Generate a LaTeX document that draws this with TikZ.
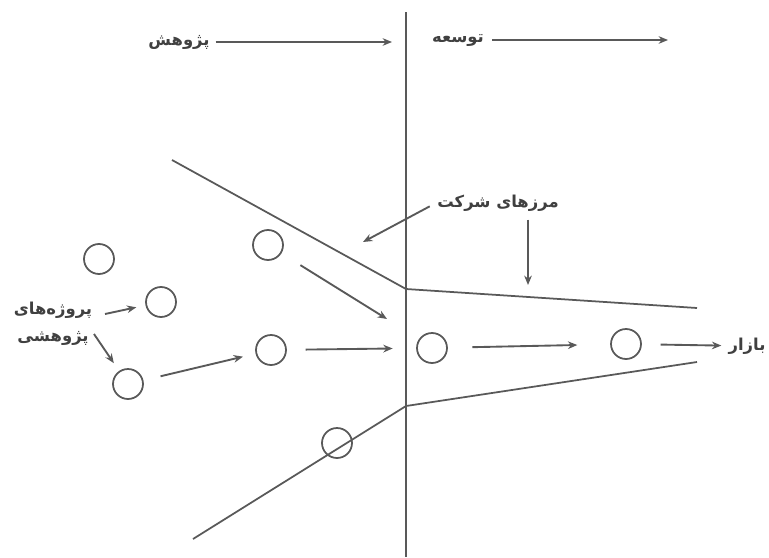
\documentclass[tikz,border=0pt]{standalone}
\usepackage{fontspec}
\newfontfamily\farsi[Script=Arabic]{DejaVu Sans}
\TeXXeTstate=1
\usetikzlibrary{arrows.meta}
\usetikzlibrary{positioning}

\begin{document}
\begin{tikzpicture}[x=0.03cm, y=-0.03cm,
      proj/.style ={circle, draw=black!65, line width=1.5pt, minimum size=0.9cm, inner sep=0pt},
      lbl/.style ={font=\farsi\bfseries\fontsize{14}{23}\selectfont, text=black!75, inner sep=1pt, align=center},
      edge/.style ={draw=black!65, line width=1.5pt},
      flow/.style ={-{Stealth[length=8pt, width=6.5pt]}, draw=black!65, line width=1.6pt}
    ]
    \useasboundingbox (0,0) rectangle (769,557);

    \node [proj] (p1) at (99,259) {} ;
    \node [proj] (p2) at (161,302) {} ;
    \node [proj] (p3) at (128,384) {} ;
    \node [proj] (p4) at (268,245) {} ;
    \node [proj] (p5) at (271,350) {} ;
    \node [proj] (p6) at (432,348) {} ;
    \node [proj] (p7) at (626,344) {} ;
    \node [proj] (p8) at (337,443) {} ;

    \node [lbl] (research) at (179,42) {\beginR پژوهش\endR} ;
    \node [lbl] (develop) at (458,40) {\beginR توسعه\endR} ;
    \node [lbl] (bounds) at (498,203) {\beginR مرزهای شرکت\endR} ;
    \node [lbl] (market) at (747,346) {\beginR بازار\endR} ;
    \node [lbl] (projects) at (53,324) {\beginR پروژه‌های\endR\\\beginR پژوهشی\endR} ;

    \coordinate (top) at (406,12) ;
    \coordinate (bottom) at (406,557) ;
    \coordinate (ua) at (172,160) ;
    \coordinate (ub) at (406,289) ;
    \coordinate (uc) at (697,308) ;
    \coordinate (la) at (193,539) ;
    \coordinate (lb) at (406,406) ;
    \coordinate (lc) at (697,362) ;
    \coordinate (resend) at (392,42) ;
    \coordinate (devend) at (668,40) ;
    \coordinate (b1tip) at (363,242) ;
    \coordinate (b2tip) at (528,285) ;
    \coordinate (p4in) at (387,319) ;
    \coordinate (l1) at (105,314) ;
    \coordinate (l2) at (94,334) ;

    \draw [edge] (top) -- (bottom) ;
    \draw [edge] (ua) -- (ub) -- (uc) ;
    \draw [edge] (la) -- (lb) -- (lc) ;

    \draw [flow, shorten <=4pt] (research) -- (resend) ;
    \draw [flow, shorten <=6pt] (develop) -- (devend) ;
    \draw [flow, shorten <=6pt] (bounds.west) -- (b1tip) ;
    \draw [flow, shorten <=6pt] (bounds.south -| b2tip) -- (b2tip) ;
    \draw [flow, shorten >=8pt] (l1) -- (p2) ;
    \draw [flow, shorten >=8pt] (l2) -- (p3) ;
    \draw [flow, shorten <=15pt, shorten >=11pt] (p3) -- (p5) ;
    \draw [flow, shorten <=19pt] (p4) -- (p4in) ;
    \draw [flow, shorten <=16pt, shorten >=20pt] (p5) -- (p6) ;
    \draw [flow, shorten <=21pt, shorten >=28pt] (p6) -- (p7) ;
    \draw [flow, shorten <=16pt, shorten >=5pt] (p7) -- (market) ;
  \end{tikzpicture}
\end{document}
